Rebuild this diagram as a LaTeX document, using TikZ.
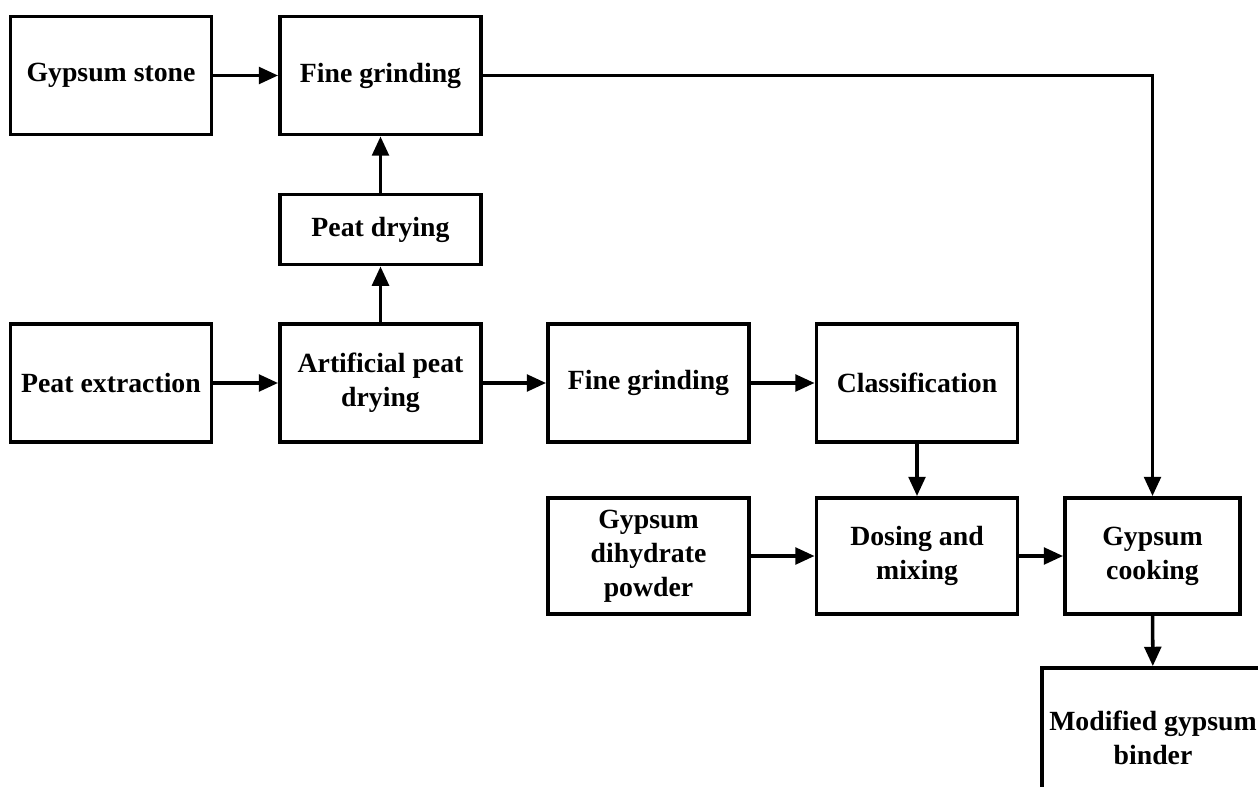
\documentclass[tikz,border=0pt]{standalone}
\usepackage{fontspec}
\setmainfont{Liberation Serif}
\usepackage{tikz}
\usetikzlibrary{arrows.meta, positioning}

\begin{document}
\begin{tikzpicture}[x=0.02cm, y=-0.02cm,
    stage/.style={draw, line width=2.2pt, fill=white, align=center, inner sep=2pt,
      minimum width=4.02cm, minimum height=2.36cm,
      font=\fontsize{15.8}{19.4}\selectfont\bfseries},
    flow/.style={line width=2pt, -{Triangle[length=11pt, width=9.5pt]}}]
  \clip (0,0) rectangle (1258,787);

  % Top row
  \node[stage] (gstone) at (111, 75.5) {Gypsum stone};
  \node[stage] (fgrind1) at (380.5, 75.5) {Fine grinding};
  \node[stage, minimum height=1.4cm] (peatdry) at (380.5, 229.5) {Peat drying};

  % Peat line
  \node[stage] (peatext) at (111, 383) {Peat extraction};
  \node[stage] (artdry) at (380.5, 383) {Artificial peat\\drying};
  \node[stage] (fgrind2) at (648.5, 383) {Fine grinding};
  \node[stage] (classif) at (917, 383) {Classification};

  % Mixing and cooking
  \node[stage, minimum height=2.32cm] (gdihyd) at (648.5, 556) {Gypsum\\dihydrate\\powder};
  \node[stage, minimum height=2.32cm] (dosing) at (917, 556) {Dosing and\\mixing};
  \node[stage, minimum height=2.32cm, minimum width=3.5cm] (gcook) at (1152.5, 556) {Gypsum\\cooking};
  \node[stage, minimum height=2.8cm, minimum width=4.44cm] (binder) at (1153, 738) {Modified gypsum\\binder};

  % Connectors
  \draw[flow] (gstone) -- (fgrind1);
  \draw[flow] (peatdry) -- (fgrind1);
  \draw[flow] (artdry) -- (peatdry);
  \draw[flow] (peatext) -- (artdry);
  \draw[flow] (artdry) -- (fgrind2);
  \draw[flow] (fgrind2) -- (classif);
  \draw[flow] (classif) -- (dosing);
  \draw[flow] (gdihyd) -- (dosing);
  \draw[flow] (dosing) -- (gcook);
  \draw[flow] (fgrind1.east) -| (gcook.north);
  \draw[flow] (gcook) -- (binder);
\end{tikzpicture}
\end{document}
